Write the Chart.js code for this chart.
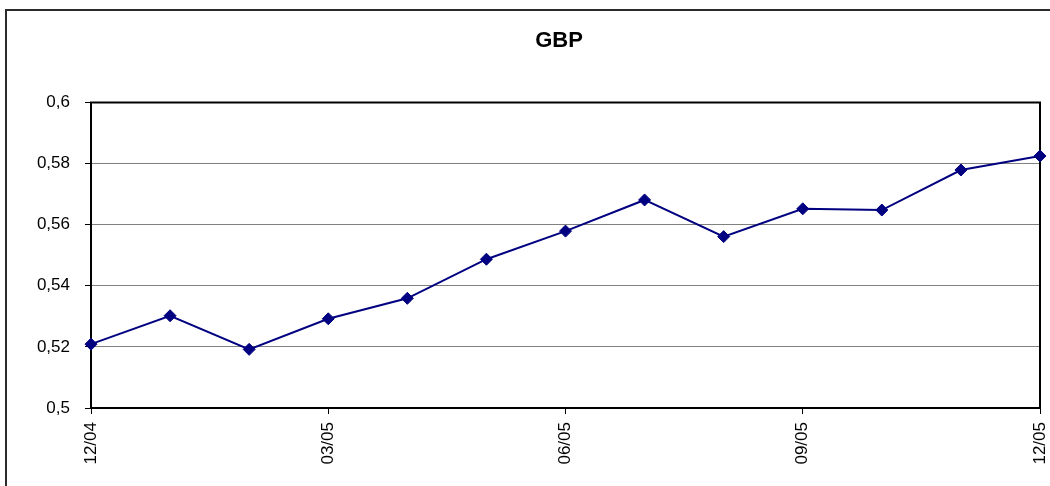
<!DOCTYPE html>
<html>
<head>
<meta charset="utf-8">
<script src="https://cdn.jsdelivr.net/npm/chart.js@4/dist/chart.umd.min.js"></script>
<style>
  html, body { margin: 0; padding: 0; background: #fff; }
  canvas { display: block; }
</style>
</head>
<body>
<canvas id="c" width="1050" height="486"></canvas>
<script>
// Monthly GBP rate, Dec 2004 – Dec 2005
const months = ['12/04', '01/05', '02/05', '03/05', '04/05', '05/05', '06/05',
                '07/05', '08/05', '09/05', '10/05', '11/05', '12/05'];
const gbpRates = [0.5209, 0.5302, 0.5192, 0.5292, 0.5359, 0.5487, 0.5579,
                  0.5681, 0.5561, 0.5652, 0.5648, 0.5779, 0.5825];
// Only quarterly months carry a label and tick mark
const labelledMonths = ['12/04', '03/05', '06/05', '09/05', '12/05'];
const yTicks = [0.5, 0.52, 0.54, 0.56, 0.58, 0.6];

const FONT = "'Liberation Sans', Arial, Helvetica, sans-serif";
// The outer frame runs on past the right edge of the canvas
const FRAME_LEFT = 6, FRAME_TOP = 10, FRAME_RIGHT = 1112;

const framePlugin = {
  id: 'frames',
  afterLayout(chart) {
    // centre the title within the full frame
    const t = chart.titleBlock;
    if (t) { t.left = FRAME_LEFT; t.right = FRAME_RIGHT; }
  },
  beforeDraw(chart) {
    const ctx = chart.ctx;
    ctx.save();
    ctx.fillStyle = '#fff';
    ctx.fillRect(0, 0, chart.width, chart.height);
    ctx.strokeStyle = '#2b2b2b';
    ctx.lineWidth = 2;
    ctx.strokeRect(FRAME_LEFT, FRAME_TOP, FRAME_RIGHT - FRAME_LEFT, chart.height + 20);
    ctx.restore();
  },
  beforeDatasetsDraw(chart) {
    const a = chart.chartArea;
    const ctx = chart.ctx;
    ctx.save();
    ctx.strokeStyle = '#000';
    ctx.lineWidth = 2;
    ctx.strokeRect(a.left, a.top, a.right - a.left, a.bottom - a.top);
    ctx.restore();
  }
};

const isLabelled = (i) => labelledMonths.includes(months[i]);

new Chart(document.getElementById('c'), {
  type: 'line',
  data: {
    labels: months,
    datasets: [{
      label: 'GBP',
      data: gbpRates,
      borderColor: '#000080',
      backgroundColor: '#000080',
      borderWidth: 2,
      pointStyle: 'rectRot',
      pointRadius: 6,
      pointBorderWidth: 1,
      pointBorderColor: '#000080',
      pointBackgroundColor: '#000080',
      tension: 0,
      clip: false
    }]
  },
  options: {
    responsive: false,
    animation: false,
    events: [],
    layout: { padding: { left: 0, right: 10, top: 0, bottom: 0 } },
    plugins: {
      legend: { display: false },
      tooltip: { enabled: false },
      title: {
        display: true,
        text: 'GBP',
        color: '#000',
        font: { family: FONT, size: 22, weight: 'bold', lineHeight: 1.2 },
        padding: { top: 27.3, bottom: 48.8 }
      }
    },
    scales: {
      x: {
        type: 'category',
        offset: false,
        grid: {
          drawOnChartArea: false,
          drawTicks: true,
          tickLength: 6,
          tickWidth: 1,
          tickColor: (c) => isLabelled(c.index) ? '#000' : 'rgba(0,0,0,0)'
        },
        border: { display: true, color: '#000', width: 2 },
        ticks: {
          autoSkip: false,
          maxRotation: 90,
          minRotation: 90,
          padding: 8,
          color: '#000',
          font: { family: FONT, size: 17 },
          callback: (v, i) => isLabelled(i) ? months[i] : ''
        },
        afterFit(scale) {
          scale.height = 78;
          scale.paddingLeft = 0;
          scale.paddingRight = 0;
        }
      },
      y: {
        min: 0.5,
        max: 0.6,
        afterBuildTicks(scale) { scale.ticks = yTicks.map(v => ({ value: v })); },
        grid: {
          color: '#808080',
          lineWidth: 1,
          drawTicks: true,
          tickLength: 6,
          tickColor: '#000'
        },
        border: { display: true, color: '#000', width: 2 },
        ticks: {
          padding: 15,
          color: '#000',
          font: { family: FONT, size: 17 },
          callback: (v) => String(Number(v.toFixed(2))).replace('.', ',')
        },
        afterFit(scale) { scale.width = 91; }
      }
    }
  },
  plugins: [framePlugin]
});
</script>
</body>
</html>
